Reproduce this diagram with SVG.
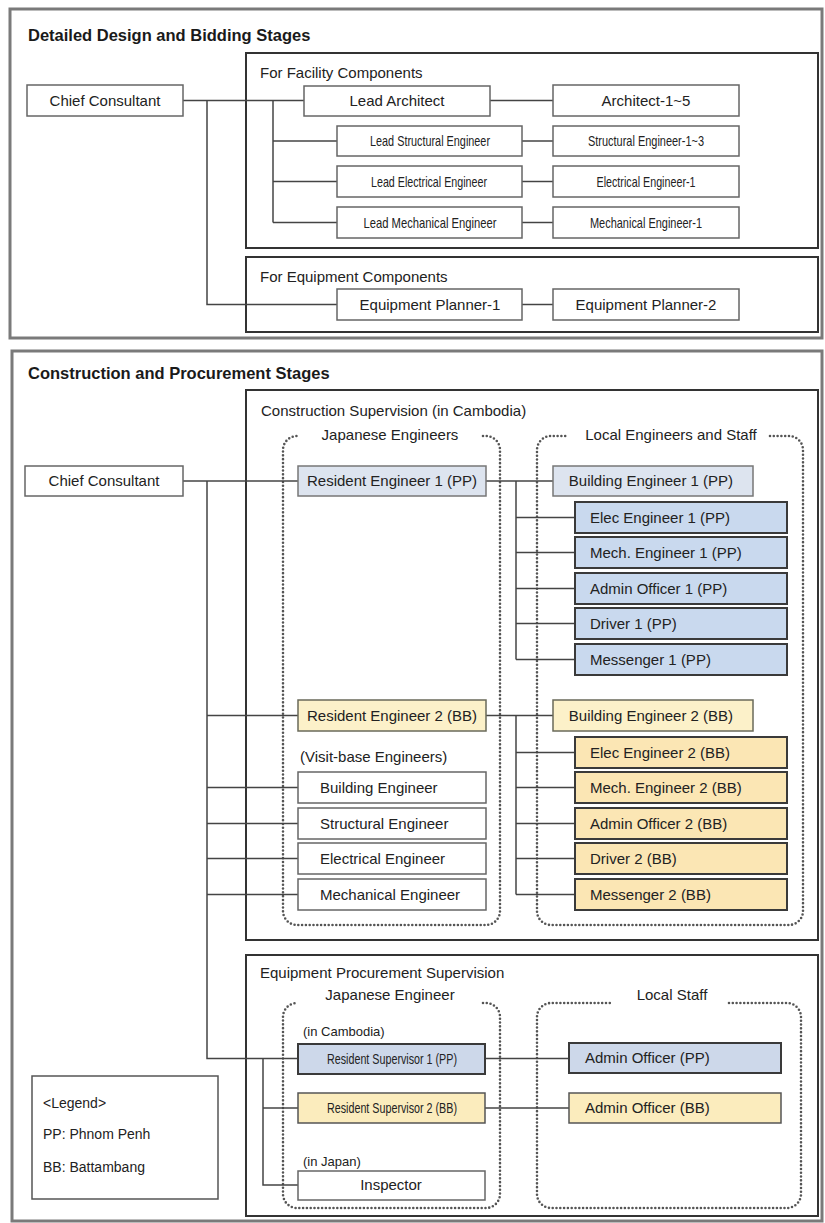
<svg xmlns="http://www.w3.org/2000/svg" width="825" height="1223" viewBox="0 0 825 1223">
  <style>
    text { font-family: "Liberation Sans", Arial, sans-serif; font-size: 15px; fill: #222; }
    .title { font-weight: bold; font-size: 16.5px; fill: #1a1a1a; }
    .mid { text-anchor: middle; }
    .small { font-size: 13px; }
    .leg { font-size: 14px; }
    .frame { fill: none; stroke: #7a7a7a; stroke-width: 3; }
    .panel { fill: none; stroke: #333; stroke-width: 2; }
    .box { fill: #fff; stroke: #666; stroke-width: 1.5; }
    .legend { fill: #fff; stroke: #555; stroke-width: 1.5; }
    .blueL { fill: #dde4ef; stroke: #777; stroke-width: 1.5; }
    .blue { fill: #c9d9ee; stroke: #3a3a3a; stroke-width: 2; }
    .blueP { fill: #cdd8ea; stroke: #3a3a3a; stroke-width: 2; }
    .yelL { fill: #fcf1c9; stroke: #6a6a5a; stroke-width: 1.5; }
    .yel { fill: #fbe6b4; stroke: #3a3a3a; stroke-width: 2; }
    .yelP { fill: #fbecbd; stroke: #555; stroke-width: 1.5; }
    .dots { fill: none; stroke: #555; stroke-width: 2.6; stroke-dasharray: 0 3.8; stroke-linecap: round; }
    #connectors path { fill: none; stroke: #444; stroke-width: 1.5; }
  </style>

  <rect width="825" height="1223" fill="#fff"/>

  <!-- Detailed design and bidding stages -->
  <g id="stage-design">
    <rect class="frame" x="10" y="9" width="812" height="329"/>
    <text class="title" x="28" y="41">Detailed Design and Bidding Stages</text>
    <rect class="panel" x="246" y="53" width="572" height="195"/>
    <text x="260" y="78">For Facility Components</text>
    <rect class="panel" x="246" y="257" width="572" height="75"/>
    <text x="260" y="282">For Equipment Components</text>
  </g>

  <!-- Construction and procurement stages -->
  <g id="stage-construction">
    <rect class="frame" x="12" y="351" width="810" height="870"/>
    <text class="title" x="28" y="379">Construction and Procurement Stages</text>
    <rect class="panel" x="246" y="390" width="572" height="550"/>
    <text x="261" y="416">Construction Supervision (in Cambodia)</text>
    <rect class="panel" x="246" y="955" width="572" height="261"/>
    <text x="260" y="978">Equipment Procurement Supervision</text>
  </g>

  <!-- dotted groupings -->
  <g id="group-jp-construction">
    <path class="dots" d="M483,436 H486 A14,14 0 0 1 500,450 V911 A14,14 0 0 1 486,925 H297 A14,14 0 0 1 283,911 V450 A14,14 0 0 1 297,436"/>
    <text class="mid" x="390" y="440">Japanese Engineers</text>
    <text x="300" y="762">(Visit-base Engineers)</text>
  </g>
  <g id="group-local-construction">
    <path class="dots" d="M770,436 H789 A14,14 0 0 1 803,450 V911 A14,14 0 0 1 789,925 H551 A14,14 0 0 1 537,911 V450 A14,14 0 0 1 551,436 H566"/>
    <text class="mid" x="671" y="440">Local Engineers and Staff</text>
  </g>
  <g id="group-jp-procurement">
    <path class="dots" d="M483,1003 H486 A14,14 0 0 1 500,1017 V1194 A14,14 0 0 1 486,1208 H297 A14,14 0 0 1 283,1194 V1017 A14,14 0 0 1 297,1003"/>
    <text class="mid" x="390" y="1000">Japanese Engineer</text>
    <text class="small" x="303" y="1036">(in Cambodia)</text>
    <text class="small" x="303" y="1166">(in Japan)</text>
  </g>
  <g id="group-local-procurement">
    <path class="dots" d="M729,1003 H787 A14,14 0 0 1 801,1017 V1194 A14,14 0 0 1 787,1208 H551 A14,14 0 0 1 537,1194 V1017 A14,14 0 0 1 551,1003 H612"/>
    <text class="mid" x="672" y="1000">Local Staff</text>
  </g>

  <!-- connectors -->
  <g id="connectors">
    <path d="M183,100.5 H304"/>
    <path d="M207,100.5 V304.5 H337"/>
    <path d="M273,100.5 V222.5"/>
    <path d="M273,141 H337"/>
    <path d="M273,181.5 H337"/>
    <path d="M273,222.5 H337"/>
    <path d="M490,100.5 H553"/>
    <path d="M522,141 H553"/>
    <path d="M522,181.5 H553"/>
    <path d="M522,222.5 H553"/>
    <path d="M522,304.5 H553"/>

    <path d="M183,481 H298"/>
    <path d="M207,481 V1058.5 H298"/>
    <path d="M207,715.5 H298"/>
    <path d="M207,787.5 H298"/>
    <path d="M207,823.5 H298"/>
    <path d="M207,858.5 H298"/>
    <path d="M207,894.5 H298"/>

    <path d="M486,481 H553"/>
    <path d="M516,481 V659.5"/>
    <path d="M516,517.5 H575"/>
    <path d="M516,552.5 H575"/>
    <path d="M516,588.5 H575"/>
    <path d="M516,623.5 H575"/>
    <path d="M516,659.5 H575"/>

    <path d="M486,715.5 H553"/>
    <path d="M516,715.5 V894.5"/>
    <path d="M516,752.5 H575"/>
    <path d="M516,787.5 H575"/>
    <path d="M516,823.5 H575"/>
    <path d="M516,858.5 H575"/>
    <path d="M516,894.5 H575"/>

    <path d="M485,1058.5 H569"/>
    <path d="M485,1108 H569"/>
    <path d="M263,1058.5 V1185 H298"/>
    <path d="M263,1108 H298"/>
  </g>

  <!-- design stage nodes -->
  <g id="chief-consultant-1"><rect class="box" x="27" y="85" width="156" height="31"/><text class="mid" x="105" y="106">Chief Consultant</text></g>
  <g id="lead-architect"><rect class="box" x="304" y="86" width="186" height="30"/><text class="mid" x="397" y="106">Lead Architect</text></g>
  <g id="architects"><rect class="box" x="553" y="85" width="186" height="31"/><text class="mid" x="646" y="106">Architect-1~5</text></g>
  <g id="lead-structural"><rect class="box" x="337" y="126" width="185" height="30"/><text class="mid" x="430" y="146" textLength="120" lengthAdjust="spacingAndGlyphs">Lead Structural Engineer</text></g>
  <g id="structural-engineers"><rect class="box" x="553" y="126" width="186" height="30"/><text class="mid" x="646" y="146" textLength="116" lengthAdjust="spacingAndGlyphs">Structural Engineer-1~3</text></g>
  <g id="lead-electrical"><rect class="box" x="337" y="166" width="185" height="31"/><text class="mid" x="429" y="187" textLength="116" lengthAdjust="spacingAndGlyphs">Lead Electrical Engineer</text></g>
  <g id="electrical-engineer"><rect class="box" x="553" y="166" width="186" height="31"/><text class="mid" x="646" y="187" textLength="99" lengthAdjust="spacingAndGlyphs">Electrical Engineer-1</text></g>
  <g id="lead-mechanical"><rect class="box" x="337" y="207" width="185" height="31"/><text class="mid" x="430" y="228" textLength="133" lengthAdjust="spacingAndGlyphs">Lead Mechanical Engineer</text></g>
  <g id="mechanical-engineer"><rect class="box" x="553" y="207" width="186" height="31"/><text class="mid" x="646" y="228" textLength="112" lengthAdjust="spacingAndGlyphs">Mechanical Engineer-1</text></g>
  <g id="equipment-planner-1"><rect class="box" x="337" y="289" width="185" height="31"/><text class="mid" x="430" y="310">Equipment Planner-1</text></g>
  <g id="equipment-planner-2"><rect class="box" x="553" y="289" width="186" height="31"/><text class="mid" x="646" y="310">Equipment Planner-2</text></g>

  <!-- construction stage nodes -->
  <g id="chief-consultant-2"><rect class="box" x="25" y="466" width="158" height="30"/><text class="mid" x="104" y="486">Chief Consultant</text></g>
  <g id="resident-engineer-1"><rect class="blueL" x="298" y="466" width="188" height="30"/><text class="mid" x="392" y="486">Resident Engineer 1 (PP)</text></g>
  <g id="building-engineer-1"><rect class="blueL" x="553" y="466" width="200" height="30"/><text class="mid" x="651" y="486">Building Engineer 1 (PP)</text></g>
  <g id="elec-engineer-1"><rect class="blue" x="575" y="502" width="212" height="31"/><text x="590" y="523">Elec Engineer 1 (PP)</text></g>
  <g id="mech-engineer-1"><rect class="blue" x="575" y="537" width="212" height="31"/><text x="590" y="558">Mech. Engineer 1 (PP)</text></g>
  <g id="admin-officer-1"><rect class="blue" x="575" y="573" width="212" height="31"/><text x="590" y="594">Admin Officer 1 (PP)</text></g>
  <g id="driver-1"><rect class="blue" x="575" y="608" width="212" height="31"/><text x="590" y="629">Driver 1 (PP)</text></g>
  <g id="messenger-1"><rect class="blue" x="575" y="644" width="212" height="31"/><text x="590" y="665">Messenger 1 (PP)</text></g>

  <g id="resident-engineer-2"><rect class="yelL" x="298" y="700" width="188" height="31"/><text class="mid" x="392" y="721">Resident Engineer 2 (BB)</text></g>
  <g id="building-engineer-2"><rect class="yelL" x="553" y="700" width="200" height="31"/><text class="mid" x="651" y="721">Building Engineer 2 (BB)</text></g>
  <g id="elec-engineer-2"><rect class="yel" x="575" y="737" width="212" height="31"/><text x="590" y="758">Elec Engineer 2 (BB)</text></g>
  <g id="mech-engineer-2"><rect class="yel" x="575" y="772" width="212" height="31"/><text x="590" y="793">Mech. Engineer 2 (BB)</text></g>
  <g id="admin-officer-2"><rect class="yel" x="575" y="808" width="212" height="31"/><text x="590" y="829">Admin Officer 2 (BB)</text></g>
  <g id="driver-2"><rect class="yel" x="575" y="843" width="212" height="31"/><text x="590" y="864">Driver 2 (BB)</text></g>
  <g id="messenger-2"><rect class="yel" x="575" y="879" width="212" height="31"/><text x="590" y="900">Messenger 2 (BB)</text></g>

  <g id="visit-building"><rect class="box" x="298" y="772" width="188" height="31"/><text x="320" y="793">Building Engineer</text></g>
  <g id="visit-structural"><rect class="box" x="298" y="808" width="188" height="31"/><text x="320" y="829">Structural Engineer</text></g>
  <g id="visit-electrical"><rect class="box" x="298" y="843" width="188" height="31"/><text x="320" y="864">Electrical Engineer</text></g>
  <g id="visit-mechanical"><rect class="box" x="298" y="879" width="188" height="31"/><text x="320" y="900">Mechanical Engineer</text></g>

  <!-- procurement stage nodes -->
  <g id="resident-supervisor-1"><rect class="blueP" x="298" y="1044" width="187" height="30"/><text class="mid" x="392" y="1064" textLength="130" lengthAdjust="spacingAndGlyphs">Resident Supervisor 1 (PP)</text></g>
  <g id="resident-supervisor-2"><rect class="yelP" x="298" y="1093" width="187" height="30"/><text class="mid" x="392" y="1113" textLength="130" lengthAdjust="spacingAndGlyphs">Resident Supervisor 2 (BB)</text></g>
  <g id="inspector"><rect class="box" x="298" y="1171" width="187" height="29"/><text class="mid" x="391" y="1190">Inspector</text></g>
  <g id="admin-officer-pp"><rect class="blueP" x="569" y="1043" width="212" height="30"/><text x="585" y="1063">Admin Officer (PP)</text></g>
  <g id="admin-officer-bb"><rect class="yelP" x="569" y="1093" width="212" height="30"/><text x="585" y="1113">Admin Officer (BB)</text></g>

  <!-- legend -->
  <g id="legend">
    <rect class="legend" x="32" y="1076" width="186" height="123"/>
    <text class="leg" x="43" y="1108">&lt;Legend&gt;</text>
    <text class="leg" x="43" y="1139">PP: Phnom Penh</text>
    <text class="leg" x="43" y="1172">BB: Battambang</text>
  </g>
</svg>
